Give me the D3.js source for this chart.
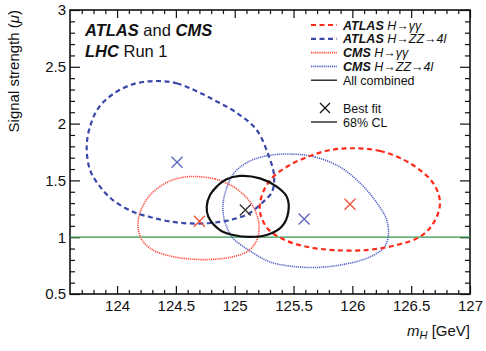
<!DOCTYPE html>
<html>
<head>
<meta charset="utf-8">
<script src="https://cdn.jsdelivr.net/npm/d3@7"></script>
<style>
  body { margin: 0; background: #fff; }
  text { font-family: "Liberation Sans", Arial, Helvetica, sans-serif; fill: #111; }
</style>
</head>
<body>
<div id="chart"></div>
<script>
// contour points: [mH, mu]
const atlasGG = [[125.98,1.783],[126.235,1.759],[126.49,1.651],[126.688,1.474],[126.745,1.298],[126.688,1.122],
  [126.575,1.004],[126.377,0.931],[126.122,0.887],[125.838,0.887],[125.612,0.916],[125.427,0.975],[125.283,1.072],
  [125.215,1.222],[125.232,1.371],[125.317,1.521],[125.47,1.636],[125.64,1.715],[125.793,1.763]];
const atlasZZ = [[124.337,2.375],[124.507,2.355],[124.677,2.285],[124.847,2.195],[125.017,2.095],[125.187,1.944],
  [125.286,1.724],[125.334,1.548],[125.317,1.398],[125.232,1.301],[125.113,1.204],[124.96,1.151],[124.79,1.125],
  [124.62,1.121],[124.45,1.138],[124.28,1.178],[124.135,1.224],[123.965,1.327],[123.855,1.445],[123.77,1.592],
  [123.742,1.797],[123.77,1.973],[123.84,2.135],[123.968,2.262],[124.145,2.35]];
const cmsGG = [[124.671,1.534],[124.832,1.512],[124.977,1.451],[125.096,1.354],[125.172,1.239],[125.206,1.107],
  [125.189,0.975],[125.113,0.879],[124.977,0.826],[124.79,0.804],[124.62,0.808],[124.45,0.835],[124.305,0.887],
  [124.212,0.975],[124.178,1.099],[124.203,1.239],[124.297,1.389],[124.45,1.495],[124.577,1.530]];
const cmsZZ = [[125.47,1.732],[125.682,1.706],[125.895,1.618],[126.082,1.46],[126.209,1.301],[126.292,1.151],
  [126.305,1.004],[126.263,0.902],[126.122,0.814],[125.895,0.755],[125.682,0.733],[125.47,0.746],[125.30,0.782],
  [125.13,0.879],[124.985,0.993],[124.917,1.134],[124.90,1.275],[124.926,1.415],[124.994,1.565],[125.113,1.662],
  [125.266,1.715]];
const combined = [[125.045,1.539],[125.215,1.518],[125.357,1.445],[125.442,1.357],[125.456,1.224],[125.399,1.092],
  [125.272,1.019],[125.13,1.002],[124.988,1.019],[124.875,1.063],[124.776,1.18],[124.762,1.268],[124.79,1.371],
  [124.847,1.445],[124.926,1.508]];

const bestFits = [
  {name: "atlasGG", mH: 125.98, mu: 1.29},
  {name: "atlasZZ", mH: 124.51, mu: 1.66},
  {name: "cmsGG", mH: 124.70, mu: 1.14},
  {name: "cmsZZ", mH: 125.59, mu: 1.16},
  {name: "combined", mH: 125.09, mu: 1.24}
];

const xTicks = [124, 124.5, 125, 125.5, 126, 126.5, 127];
const yTicks = [0.5, 1, 1.5, 2, 2.5, 3];
const smMu = 1;

const styles = {
  atlasGG:  {color: "#ff2a1a", dash: "5,3.5", w: 2.2},
  atlasZZ:  {color: "#3a48a8", dash: "5,3.5", w: 2.2},
  cmsGG:    {color: "#ff4a3a", dash: "1.2,0.9", w: 1.6},
  cmsZZ:    {color: "#5560c4", dash: "1.2,0.9", w: 1.6},
  combined: {color: "#111", dash: null, w: 2.2}
};
const markColor = {atlasGG: "#f0503a", atlasZZ: "#5a64bb", cmsGG: "#f0503a", cmsZZ: "#5a64bb", combined: "#333"};

var margin = {top: 10, right: 16, bottom: 57, left: 70},
    width = 486 - margin.left - margin.right,
    height = 351 - margin.top - margin.bottom;

const root = d3.select("#chart").append("svg")
    .attr("width", 486)
    .attr("height", 351);
const svg = root.append("g")
    .attr("transform", `translate(${margin.left},${margin.top})`);

const x = d3.scaleLinear().domain([123.6, 127]).range([0, width]);
const y = d3.scaleLinear().domain([0.5, 3]).range([height, 0]);

const xMinor = d3.range(123.7, 127.001, 0.1).map(d => +d.toFixed(1)).filter(d => !xTicks.includes(d));
const yMinor = d3.range(0.6, 3.001, 0.1).map(d => +d.toFixed(1)).filter(d => !yTicks.includes(d));

// bottom axis with labels, ticks pointing inward
svg.append("g")
    .attr("transform", `translate(0,${height})`)
    .call(d3.axisBottom(x).tickValues(xTicks).tickSizeInner(-8).tickSizeOuter(0).tickPadding(6).tickFormat(d3.format("")))
    .call(g => g.select(".domain").remove())
    .call(g => g.selectAll("text").style("font-size", "15px"));
svg.append("g")
    .attr("transform", `translate(0,${height})`)
    .call(d3.axisBottom(x).tickValues(xMinor).tickSizeInner(-4).tickSizeOuter(0).tickFormat(""))
    .call(g => g.select(".domain").remove());
// top axis, ticks only
svg.append("g")
    .call(d3.axisTop(x).tickValues(xTicks).tickSizeInner(-8).tickSizeOuter(0).tickFormat(""))
    .call(g => g.select(".domain").remove());
svg.append("g")
    .call(d3.axisTop(x).tickValues(xMinor).tickSizeInner(-4).tickSizeOuter(0).tickFormat(""))
    .call(g => g.select(".domain").remove());

// left axis with labels
svg.append("g")
    .call(d3.axisLeft(y).tickValues(yTicks).tickSizeInner(-10).tickSizeOuter(0).tickPadding(4).tickFormat(d3.format("")))
    .call(g => g.select(".domain").remove())
    .call(g => g.selectAll("text").style("font-size", "15px"));
svg.append("g")
    .call(d3.axisLeft(y).tickValues(yMinor).tickSizeInner(-5).tickSizeOuter(0).tickFormat(""))
    .call(g => g.select(".domain").remove());
svg.append("g")
    .attr("transform", `translate(${width},0)`)
    .call(d3.axisRight(y).tickValues(yTicks).tickSizeInner(-10).tickSizeOuter(0).tickFormat(""))
    .call(g => g.select(".domain").remove());
svg.append("g")
    .attr("transform", `translate(${width},0)`)
    .call(d3.axisRight(y).tickValues(yMinor).tickSizeInner(-5).tickSizeOuter(0).tickFormat(""))
    .call(g => g.select(".domain").remove());

svg.selectAll(".tick line").attr("stroke", "#111").attr("stroke-width", 1.2);

// frame
svg.append("rect")
    .attr("width", width)
    .attr("height", height)
    .attr("fill", "none")
    .attr("stroke", "#111")
    .attr("stroke-width", 1.6);

// SM line
svg.append("line")
    .attr("x1", x(123.6)).attr("x2", x(127))
    .attr("y1", y(smMu)).attr("y2", y(smMu))
    .attr("stroke", "#2f9a4c")
    .attr("stroke-width", 1.3);

const line = d3.line()
    .x(d => x(d[0]))
    .y(d => y(d[1]))
    .curve(d3.curveCatmullRomClosed.alpha(0.5));

const contours = [
  {name: "cmsZZ", pts: cmsZZ},
  {name: "cmsGG", pts: cmsGG},
  {name: "atlasZZ", pts: atlasZZ},
  {name: "atlasGG", pts: atlasGG},
  {name: "combined", pts: combined}
];

svg.selectAll("path.contour")
  .data(contours)
  .join("path")
    .attr("class", "contour")
    .attr("d", d => line(d.pts))
    .attr("fill", "none")
    .attr("stroke", d => styles[d.name].color)
    .attr("stroke-width", d => styles[d.name].w)
    .attr("stroke-dasharray", d => styles[d.name].dash);

// best fit crosses
const cr = 5.5;
svg.selectAll("path.fit")
  .data(bestFits)
  .join("path")
    .attr("class", "fit")
    .attr("d", d => `M${x(d.mH)-cr},${y(d.mu)-cr}L${x(d.mH)+cr},${y(d.mu)+cr}M${x(d.mH)-cr},${y(d.mu)+cr}L${x(d.mH)+cr},${y(d.mu)-cr}`)
    .attr("stroke", d => markColor[d.name])
    .attr("stroke-width", 1.3)
    .attr("fill", "none");

// axis titles
const yt = root.append("text")
    .attr("transform", "translate(19,10) rotate(-90)")
    .attr("text-anchor", "end")
    .style("font-size", "15px");
yt.append("tspan").text("Signal strength (");
yt.append("tspan").attr("font-style", "italic").text("μ");
yt.append("tspan").text(")");

const xt = root.append("text")
    .attr("x", 470).attr("y", 336)
    .attr("text-anchor", "end")
    .style("font-size", "15px");
xt.append("tspan").attr("font-style", "italic").text("m");
xt.append("tspan").attr("font-style", "italic").attr("font-size", "11px").attr("dy", 3).text("H");
xt.append("tspan").attr("dy", -3).text(" [GeV]");

// experiment label
const t1 = root.append("text").attr("x", 85).attr("y", 36).style("font-size", "16.5px");
t1.append("tspan").attr("font-weight", "bold").attr("font-style", "italic").text("ATLAS");
t1.append("tspan").text(" and ");
t1.append("tspan").attr("font-weight", "bold").attr("font-style", "italic").text("CMS");
const t2 = root.append("text").attr("x", 85).attr("y", 56.5).style("font-size", "16.5px");
t2.append("tspan").attr("font-weight", "bold").attr("font-style", "italic").text("LHC");
t2.append("tspan").text(" Run 1");

// legend
const legendItems = [
  {name: "atlasGG", exp: "ATLAS", ch: "H\u2192\u03b3\u03b3"},
  {name: "atlasZZ", exp: "ATLAS", ch: "H\u2192ZZ\u21924l"},
  {name: "cmsGG", exp: "CMS", ch: "H\u2192\u03b3\u03b3"},
  {name: "cmsZZ", exp: "CMS", ch: "H\u2192ZZ\u21924l"}
];
const lg = root.append("g");
const rowY = i => 25 + i * 13.8;
legendItems.forEach((d, i) => {
  lg.append("line")
    .attr("x1", 311).attr("x2", 337)
    .attr("y1", rowY(i)).attr("y2", rowY(i))
    .attr("stroke", styles[d.name].color)
    .attr("stroke-width", styles[d.name].w)
    .attr("stroke-dasharray", styles[d.name].dash);
  const t = lg.append("text").attr("x", 343).attr("y", rowY(i) + 4.5).style("font-size", "12.5px");
  t.append("tspan").attr("font-weight", "bold").attr("font-style", "italic").text(d.exp + " ");
  t.append("tspan").attr("font-style", "italic").text(d.ch);
});
lg.append("line")
  .attr("x1", 311).attr("x2", 337)
  .attr("y1", rowY(4)).attr("y2", rowY(4))
  .attr("stroke", "#111").attr("stroke-width", 1.3);
lg.append("text").attr("x", 343).attr("y", rowY(4) + 4.5).style("font-size", "12.5px").text("All combined");

lg.append("path")
  .attr("d", `M${325-5},${108-5}L${325+5},${108+5}M${325-5},${108+5}L${325+5},${108-5}`)
  .attr("stroke", "#111").attr("stroke-width", 1.3);
lg.append("text").attr("x", 343).attr("y", 108 + 4.5).style("font-size", "12.5px").text("Best fit");
lg.append("line")
  .attr("x1", 311).attr("x2", 337)
  .attr("y1", 122).attr("y2", 122)
  .attr("stroke", "#111").attr("stroke-width", 1.3);
lg.append("text").attr("x", 343).attr("y", 122 + 4.5).style("font-size", "12.5px").text("68% CL");
</script>
</body>
</html>
